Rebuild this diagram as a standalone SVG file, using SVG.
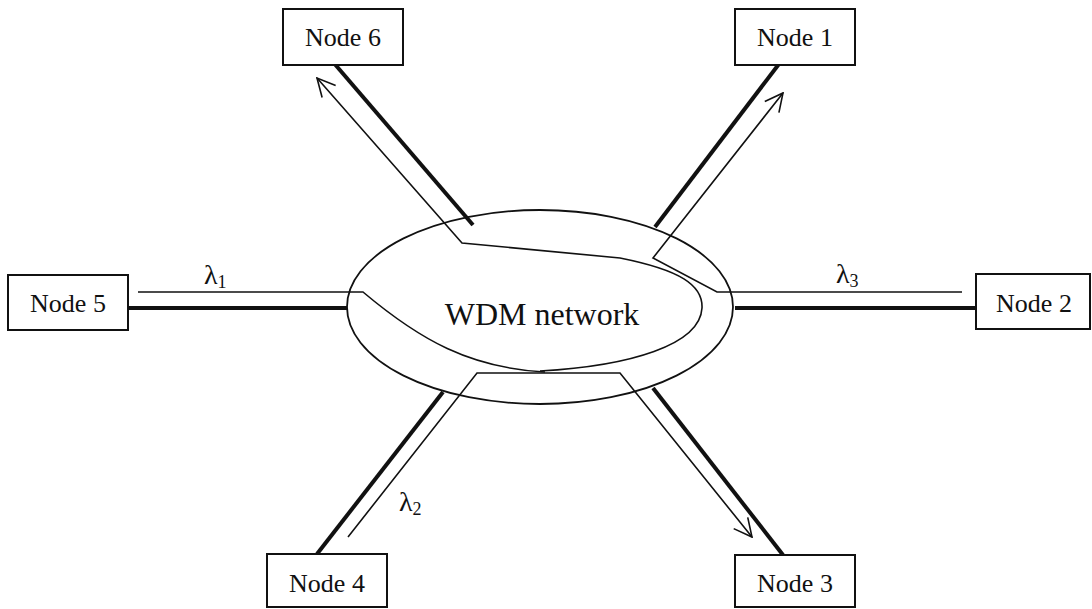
<svg xmlns="http://www.w3.org/2000/svg" width="1092" height="609" viewBox="0 0 1092 609">
<style>
.box{fill:#fff;stroke:#111;stroke-width:2}
.lbl{font-family:"Liberation Serif","Times New Roman",serif;font-size:26px;fill:#111;text-anchor:middle}
.thin{fill:none;stroke:#111;stroke-width:1.6;stroke-linejoin:miter}
.thick{fill:none;stroke:#111;stroke-width:4}
.lam{font-family:"Liberation Serif","Times New Roman",serif;font-size:28px;fill:#111}
</style>
<defs>
<marker id="arr" viewBox="0 0 20 20" refX="19" refY="10" markerWidth="20" markerHeight="20" markerUnits="userSpaceOnUse" orient="auto">
<path d="M1,1 L19,10 L1,19" fill="none" stroke="#111" stroke-width="1.6"/>
</marker>
</defs>
<rect width="1092" height="609" fill="#fff"/>
<g id="network">
<ellipse cx="540" cy="307" rx="193" ry="97" fill="none" stroke="#111" stroke-width="1.8"/>
<text x="542" y="325" class="lbl" style="font-size:32px">WDM network</text>
</g>
<g id="connectors">
<line class="thick" x1="333" y1="62" x2="473" y2="225"/>
<line class="thick" x1="782" y1="60" x2="655" y2="227"/>
<line class="thick" x1="122" y1="308" x2="347" y2="308"/>
<line class="thick" x1="735" y1="308" x2="976" y2="308"/>
<line class="thick" x1="317" y1="554" x2="443" y2="392"/>
<line class="thick" x1="653" y1="388" x2="783" y2="555"/>
<path class="thin" d="M138,292 L363,292 C420,340 470,368 545,372"/>
<path class="thin" d="M962,292 L717,292 L653,258 L783,93" marker-end="url(#arr)"/>
<path class="thin" d="M540,371 C630,366 700,345 702,308 C703,285 680,270 620,258 L462,243 L317,78" marker-end="url(#arr)"/>
<path class="thin" d="M348,537 L477,373 L620,373 L752,537" marker-end="url(#arr)"/>
<text class="lam" x="204" y="284">λ<tspan dy="4" style="font-size:18px">1</tspan></text>
<text class="lam" x="836" y="283">λ<tspan dy="4" style="font-size:18px">3</tspan></text>
<text class="lam" x="399" y="511">λ<tspan dy="4" style="font-size:18px">2</tspan></text>
</g>
<g id="node6"><rect class="box" x="283" y="9" width="120" height="56"/><text class="lbl" x="343" y="46">Node 6</text></g>
<g id="node1"><rect class="box" x="735" y="9" width="120" height="56"/><text class="lbl" x="795" y="46">Node 1</text></g>
<g id="node5"><rect class="box" x="8" y="275" width="120" height="55"/><text class="lbl" x="68" y="312">Node 5</text></g>
<g id="node2"><rect class="box" x="976" y="274" width="114" height="55"/><text class="lbl" x="1034" y="312">Node 2</text></g>
<g id="node4"><rect class="box" x="267" y="554" width="120" height="53"/><text class="lbl" x="327" y="592">Node 4</text></g>
<g id="node3"><rect class="box" x="735" y="555" width="120" height="52"/><text class="lbl" x="795" y="592">Node 3</text></g>
</svg>
